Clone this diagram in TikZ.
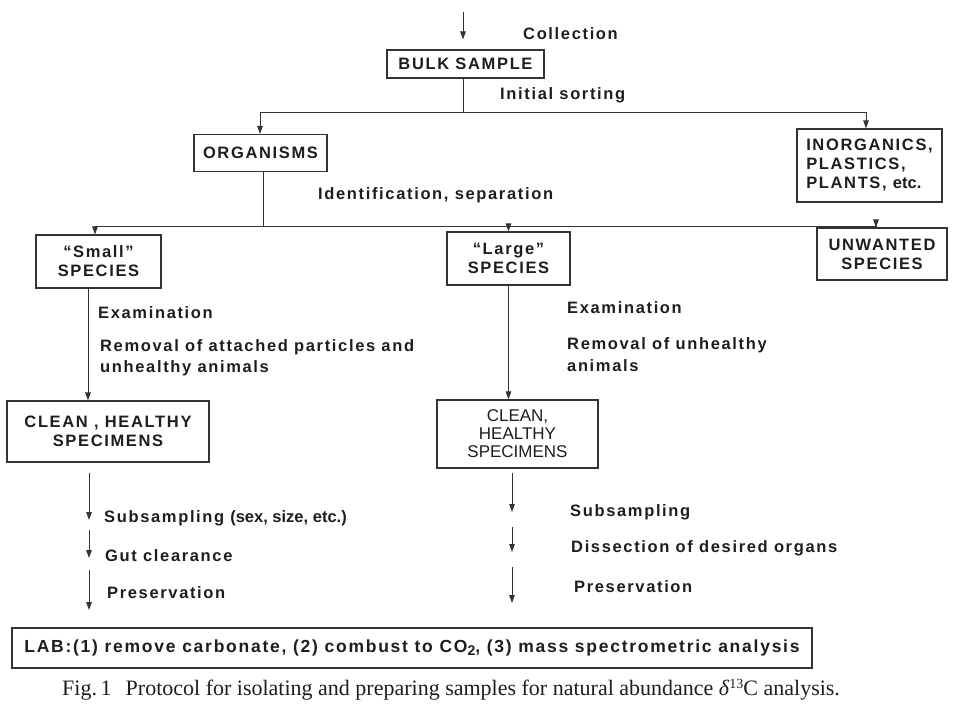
\documentclass[tikz,border=0pt]{standalone}
\usepackage{fontspec}
\usetikzlibrary{arrows.meta}
\newfontfamily\diag[LetterSpace=10]{Liberation Sans}
\newfontfamily\diagn{Liberation Sans}
\newfontfamily\capfont{Liberation Serif}
\definecolor{ink}{HTML}{1E1E1E}
\definecolor{linec}{HTML}{333333}
\begin{document}
\begin{tikzpicture}[x=1pt,y=-1pt,
  every node/.style={font=\diag\bfseries\fontsize{16.5}{19}\selectfont, text=ink},
  box/.style={draw=linec, line width=1.1pt, inner sep=0pt, align=center},
  lbl/.style={anchor=west, inner sep=0pt, align=left},
  arr/.style={draw=linec, line width=1pt, -{Triangle[length=8pt,width=5.5pt]}},
  ln/.style={draw=linec, line width=1pt}]
\useasboundingbox (0,0) rectangle (960,720);
\fill[white] (0,0) rectangle (960,720);

% boxes
\node[box, minimum width=157pt, minimum height=28pt] (bulk) at (465.5,64) {BULK SAMPLE};
\node[box, minimum width=133pt, minimum height=37pt] (org) at (260.5,153) {ORGANISMS};
\node[box, minimum width=145pt, minimum height=73pt, align=left] (inorg) at (869.5,165.5) {INORGANICS,\\PLASTICS,\\PLANTS, {\diagn\bfseries etc.}};
\node[box, minimum width=125pt, minimum height=53pt] (small) at (98.5,261.5) {“Small”\\SPECIES};
\node[box, minimum width=123pt, minimum height=53pt] (large) at (508.5,258.5) {“Large”\\SPECIES};
\node[box, minimum width=130pt, minimum height=52pt] (unw) at (882,254) {UNWANTED\\SPECIES};
\node[box, minimum width=202pt, minimum height=61pt] (clean1) at (108,431.5) {CLEAN , HEALTHY\\SPECIMENS};
\node[box, minimum width=161pt, minimum height=68pt, font=\diagn\fontsize{17}{18}\selectfont] (clean2) at (517.5,434) {CLEAN,\\HEALTHY\\SPECIMENS};
\node[box, minimum width=800pt, minimum height=40pt, font=\diag\bfseries\fontsize{17.5}{19}\selectfont] (lab) at (412,648) {LAB:(1) remove carbonate, (2) combust to CO\raisebox{-0.35ex}{\fontsize{14}{14}\selectfont 2}, (3) mass spectrometric analysis};

% junction coordinates
\coordinate (top) at (463,12);
\coordinate (j1) at (463,112);
\coordinate (j2) at (263,226);

% connectors
\draw[arr] (top) -- ([yshift=10pt]bulk.north -| top);
\draw[ln] (bulk.south -| j1) -- (j1);
\draw[arr] (j1) -| ([xshift=-0.5pt]org.north);
\draw[arr] (j1) -| ([xshift=-3.5pt]inorg.north);
\draw[ln] (org.south -| j2) -- (j2);
\draw[arr] (j2) -| ([xshift=-3.5pt]small.north);
\draw[arr] (j2) -| (large.north);
\draw[arr] (j2) -| ([xshift=-6pt]unw.north);
\draw[arr] ([xshift=-10.5pt]small.south) -- ([xshift=-10.5pt]small.south |- clean1.north);
\draw[arr] (large.south) -- (large.south |- clean2.north);

% free arrows, left column
\coordinate (a1) at (89,473); \coordinate (b1) at (89,520);
\coordinate (a2) at (89,530); \coordinate (b2) at (89,558);
\coordinate (a3) at (89,570); \coordinate (b3) at (89,610);
\draw[arr] (a1) -- (b1);
\draw[arr] (a2) -- (b2);
\draw[arr] (a3) -- (b3);
% free arrows, right column
\coordinate (c1) at (512,473); \coordinate (d1) at (512,512);
\coordinate (c2) at (512,527); \coordinate (d2) at (512,552);
\coordinate (c3) at (512,567); \coordinate (d3) at (512,603);
\draw[arr] (c1) -- (d1);
\draw[arr] (c2) -- (d2);
\draw[arr] (c3) -- (d3);

% labels
\node[lbl] (tcoll) at (523,34) {Collection};
\node[lbl] (tsort) at (500,95) {Initial sorting};
\node[lbl] (tident) at (318,195) {Identification, separation};
\node[lbl] (texl) at (98,313) {Examination};
\node[lbl, font=\diag\bfseries\fontsize{16.5}{21}\selectfont] (treml) at (100,357.5) {Removal of attached particles and\\unhealthy animals};
\node[lbl] (texr) at (567,308) {Examination};
\node[lbl, font=\diag\bfseries\fontsize{16.5}{22}\selectfont] (tremr) at (567,355) {Removal of unhealthy\\animals};
\node[lbl] (tsub1) at (104,518) {Subsampling\hspace{6pt}{\diagn\bfseries (sex, size, etc.)}};
\node[lbl] (tgut) at (105,556) {Gut clearance};
\node[lbl] (tpres1) at (107,593) {Preservation};
\node[lbl] (tsub2) at (570,512) {Subsampling};
\node[lbl] (tdis) at (571,548) {Dissection of desired organs};
\node[lbl] (tpres2) at (574,587) {Preservation};

% caption
\node[lbl, font=\capfont\fontsize{22}{24}\selectfont] (cap) at (62,690) {Fig.\,1\hspace{14pt}Protocol for isolating and preparing samples for natural abundance \textit{δ}\raisebox{0.7ex}{\fontsize{14}{14}\selectfont 13}C analysis.};
\end{tikzpicture}
\end{document}
